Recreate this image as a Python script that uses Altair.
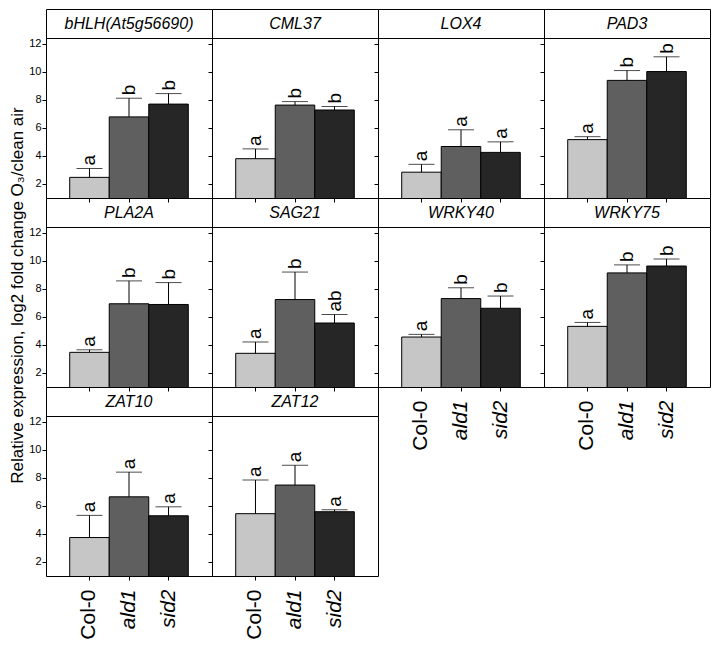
import altair as alt
import pandas as pd

genes = ["bHLH(At5g56690)", "CML37", "LOX4", "PAD3", "PLA2A",
         "SAG21", "WRKY40", "WRKY75", "ZAT10", "ZAT12"]
genotypes = ["Col-0", "ald1", "sid2"]
bar_colors = ["#c6c6c6", "#5f5f5f", "#262626"]

col0_mean = [2.47, 3.80, 2.84, 5.16, 3.47, 3.40, 4.56, 5.32, 3.74, 5.44]
ald1_mean = [6.78, 7.62, 4.67, 9.38, 6.93, 7.23, 7.30, 9.13, 6.64, 7.48]
sid2_mean = [7.69, 7.27, 4.25, 10.01, 6.88, 5.56, 6.61, 9.62, 5.29, 5.58]

col0_err = [0.63, 0.70, 0.56, 0.21, 0.18, 0.81, 0.19, 0.28, 1.58, 2.40]
ald1_err = [1.33, 0.25, 1.19, 0.70, 1.63, 1.96, 0.77, 0.57, 1.76, 1.41]
sid2_err = [0.75, 0.25, 0.75, 1.05, 1.56, 0.60, 0.87, 0.50, 0.64, 0.14]

col0_letter = ["a", "a", "a", "a", "a", "a", "a", "a", "a", "a"]
ald1_letter = ["b", "b", "a", "b", "b", "b", "b", "b", "a", "a"]
sid2_letter = ["b", "b", "a", "b", "b", "ab", "b", "b", "a", "a"]

y_ticks = [2, 4, 6, 8, 10, 12]
y_title = "Relative expression, log2 fold change O\u2083/clean air"

# grid rows of panels (None = empty cell)
grid = [["bHLH(At5g56690)", "CML37", "LOX4", "PAD3"],
        ["PLA2A", "SAG21", "WRKY40", "WRKY75"],
        ["ZAT10", "ZAT12", None, None]]
bottom_genes = {"ZAT10", "ZAT12", "WRKY40", "WRKY75"}

rows = []
for i, g in enumerate(genes):
    for gt, m, e, l in zip(genotypes,
                           [col0_mean[i], ald1_mean[i], sid2_mean[i]],
                           [col0_err[i], ald1_err[i], sid2_err[i]],
                           [col0_letter[i], ald1_letter[i], sid2_letter[i]]):
        rows.append({"gene": g, "genotype": gt, "mean": m, "err": e,
                     "upper": m + e, "letter": l})
df = pd.DataFrame(rows)

FONT = "Liberation Sans"
W = 166
H_PLOT = 160
H_STRIP = 29


def strip(gene):
    sdf = pd.DataFrame({"gene": [gene]})
    band = alt.Scale(paddingInner=0, paddingOuter=0)
    return alt.Chart(sdf).mark_text(
        font=FONT, fontSize=16, fontStyle="italic", color="black"
    ).encode(
        x=alt.X("gene:N", scale=band, axis=None),
        y=alt.Y("gene:N", scale=band, axis=None),
        text="gene:N",
    ).properties(width=W, height=H_STRIP)


def empty(h):
    return alt.Chart(pd.DataFrame({"gene": [""]})).mark_text(
        opacity=0
    ).encode(text="gene:N").properties(
        width=W, height=h, view=alt.ViewBackground(stroke="transparent"))


def plot(gene, first_col, bottom, with_title):
    base = alt.Chart(df).transform_filter(alt.datum.gene == gene)
    x_axis = alt.Axis(
        title=None, labels=bottom, ticks=True, tickSize=4, domain=False,
        labelAngle=-90, labelFontSize=21, labelPadding=9, labelFont=FONT,
        labelColor="black", tickColor="black",
        labelFontStyle={"condition": {"test": "datum.value == 'Col-0'",
                                      "value": "normal"},
                        "value": "italic"},
    )
    y_kwargs = dict(values=y_ticks, labels=first_col, tickSize=4,
                    domain=False, grid=False, labelFontSize=11,
                    labelPadding=1, labelFont=FONT, labelColor="black",
                    tickColor="black")
    if with_title:
        y_axis = alt.Axis(title=y_title, titleFont=FONT, titleFontSize=17,
                          titleFontWeight="normal", titleColor="black",
                          titleY=68, titlePadding=2, **y_kwargs)
    else:
        y_axis = alt.Axis(title=None, **y_kwargs)
    xs = alt.X("genotype:N", sort=genotypes,
               scale=alt.Scale(paddingInner=0, paddingOuter=0.6),
               axis=x_axis)
    ysc = alt.Scale(domain=[1, 12.4], nice=False, zero=False)

    bars = base.mark_bar(stroke="black", strokeWidth=1, clip=True).encode(
        x=xs,
        y=alt.Y("mean:Q", scale=ysc, axis=y_axis),
        color=alt.Color("genotype:N", scale=alt.Scale(domain=genotypes,
                                                      range=bar_colors),
                        legend=None),
    )
    rule = base.mark_rule(color="black", strokeWidth=1).encode(
        x=xs, y=alt.Y("mean:Q", scale=ysc, axis=y_axis), y2="upper:Q")
    cap = base.mark_tick(color="black", thickness=1, size=26).encode(
        x=xs, y=alt.Y("upper:Q", scale=ysc, axis=y_axis))
    lab = base.transform_calculate(rot="270").mark_text(
        align="left", baseline="middle", dx=3, angle=270,
        fontSize=19, font=FONT, color="black").encode(
        x=xs, y=alt.Y("upper:Q", scale=ysc, axis=y_axis), text="letter:N",
        angle=alt.Angle("rot:Q", scale=None))
    return alt.layer(bars, rule, cap, lab).properties(width=W, height=H_PLOT)


items = []
for row in grid:
    for ci, g in enumerate(row):
        items.append(strip(g) if g else empty(H_STRIP))
    for ci, g in enumerate(row):
        if g:
            items.append(plot(g, ci == 0, g in bottom_genes, g == "PLA2A"))
        else:
            items.append(empty(H_PLOT))

chart = alt.concat(
    *items, columns=4, spacing=0, bounds="flush"
).properties(background="white", padding=0).configure_view(
    stroke="black", strokeWidth=1
)

chart.save("out.html", embed_options={"renderer": "svg", "actions": False})
